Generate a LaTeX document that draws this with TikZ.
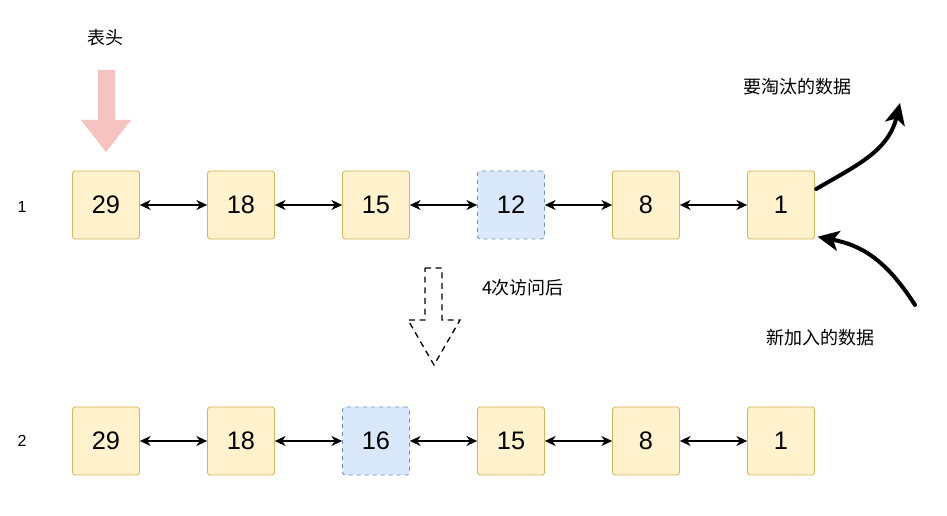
\documentclass[tikz,border=0pt]{standalone}
\usepackage{fontspec}
\setmainfont{Liberation Sans}
\newfontfamily\cjk{Noto Sans CJK SC}
\usetikzlibrary{arrows.meta}
\definecolor{yfill}{HTML}{FFF2CC}
\definecolor{ydraw}{HTML}{D6B656}
\definecolor{bfill}{HTML}{DAE8FC}
\definecolor{bdraw}{HTML}{6C8EBF}
\definecolor{pinkarrow}{HTML}{F6C3C0}
\tikzset{
  cell/.style={draw=ydraw, fill=yfill, rounded corners=2pt, minimum width=67*0.75pt, minimum height=68*0.75pt, inner sep=0pt, font=\fontsize{19}{22}\selectfont, line width=0.6pt},
  hot/.style={cell, draw=bdraw, fill=bfill, dashed},
  link/.style={{Stealth[length=8pt,width=7.5pt,inset=2.5pt]}-{Stealth[length=8pt,width=7.5pt,inset=2.5pt]}, line width=1pt},
  lab/.style={font=\cjk\fontsize{13.5}{16}\selectfont, inner sep=0pt},
  rowlab/.style={font=\fontsize{12}{14}\selectfont, inner sep=0pt},
  bigarrow/.style={-{Stealth[length=16pt,width=15pt,inset=4pt]}, line width=3pt, line cap=round}
}
\begin{document}
\begin{tikzpicture}[x=0.75pt,y=-0.75pt]
\useasboundingbox[fill=white] (0,0) rectangle (947,516);
% row labels
\node[rowlab] (r1) at (22,207) {1};
\node[rowlab] (r2) at (22,441) {2};
% row 1
\node[cell] (a1) at (106,205) {29};
\node[cell] (a2) at (241,205) {18};
\node[cell] (a3) at (376,205) {15};
\node[hot]  (a4) at (511,205) {12};
\node[cell] (a5) at (646,205) {8};
\node[cell] (a6) at (781,205) {1};
\draw[link] (a1) -- (a2);
\draw[link] (a2) -- (a3);
\draw[link] (a3) -- (a4);
\draw[link] (a4) -- (a5);
\draw[link] (a5) -- (a6);
% row 2
\node[cell] (b1) at (106,441) {29};
\node[cell] (b2) at (241,441) {18};
\node[hot]  (b3) at (376,441) {16};
\node[cell] (b4) at (511,441) {15};
\node[cell] (b5) at (646,441) {8};
\node[cell] (b6) at (781,441) {1};
\draw[link] (b1) -- (b2);
\draw[link] (b2) -- (b3);
\draw[link] (b3) -- (b4);
\draw[link] (b4) -- (b5);
\draw[link] (b5) -- (b6);
% head arrow
\node[lab] (head) at (105,38) {表头};
\fill[pinkarrow] (98,70) -- (115,70) -- (115,120) -- (131,120) -- (106,152) -- (81,120) -- (98,120) -- cycle;
% dashed arrow
\node[lab] (after) at (523,288) {4次访问后};
\draw[dashed, line width=1pt, dash pattern=on 4.5pt off 3.5pt] (425,268) -- (442,268) -- (442,320) -- (460,320) -- (434,365) -- (408,320) -- (425,320) -- cycle;
% eviction / insertion
\node[lab] (evict) at (797,87) {要淘汰的数据};
\node[lab] (insert) at (820,338) {新加入的数据};
\coordinate (outend) at (900,103);
\coordinate (instart) at (915,305);
\draw[bigarrow] ([yshift=12pt,xshift=1pt]a6.east) .. controls (855,166) and (888,152) .. (outend);
\draw[bigarrow] (instart) .. controls (885,258) and (860,245) .. ([xshift=2pt,yshift=2pt]a6.south east);
\end{tikzpicture}
\end{document}
